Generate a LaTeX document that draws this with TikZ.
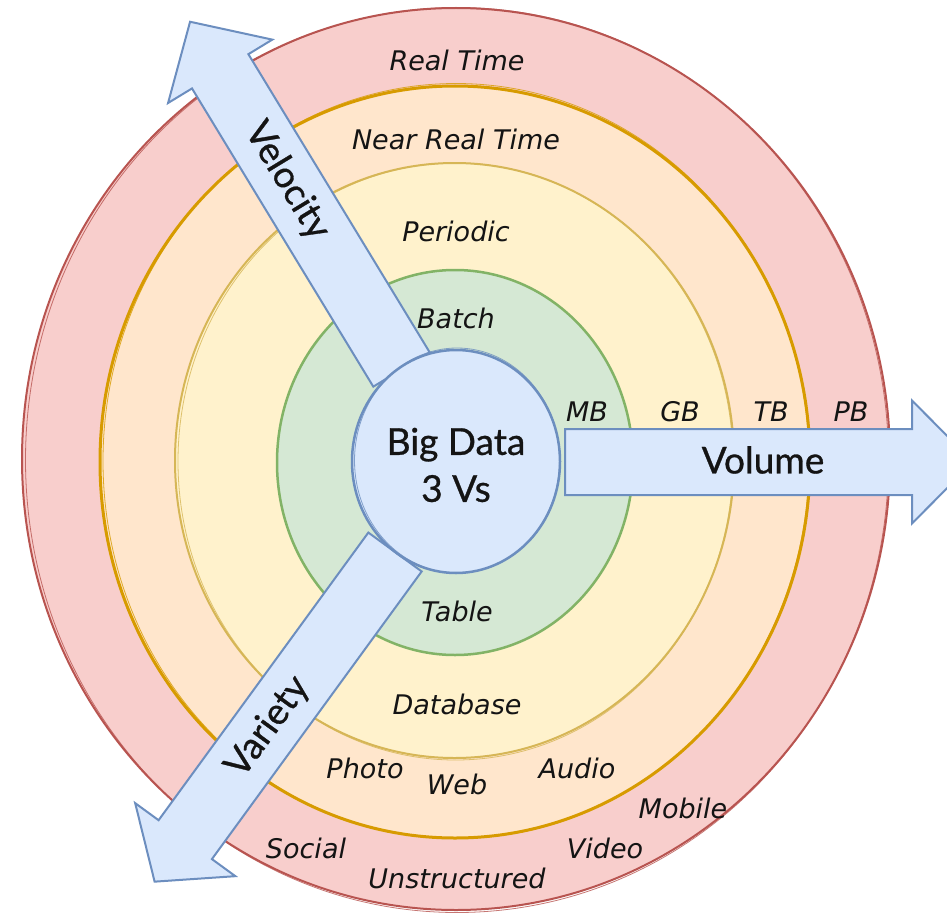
\documentclass[tikz,border=0pt]{standalone}
\usepackage{fontspec}
\setmainfont{Lato}
\newfontfamily\bigfont{Lato}[FakeBold=0.8]
\newfontfamily\handfont{DejaVu Sans}
\usetikzlibrary{shapes.geometric}

\definecolor{redfill}{HTML}{F8CECC}\definecolor{redline}{HTML}{B85450}
\definecolor{orfill}{HTML}{FFE6CC}\definecolor{orline}{HTML}{D79B00}
\definecolor{yefill}{HTML}{FFF2CC}\definecolor{yeline}{HTML}{D6B656}
\definecolor{grfill}{HTML}{D5E8D4}\definecolor{grline}{HTML}{82B366}
\definecolor{blfill}{HTML}{DAE8FC}\definecolor{blline}{HTML}{6C8EBF}
\definecolor{ink}{HTML}{141414}

\tikzset{
  ring/.style={line width=2pt},
  sketchline/.style={line width=0.8pt, opacity=0.8},
  handlabel/.style={font=\handfont\fontsize{27}{30}\selectfont\itshape, text=ink, inner sep=0pt},
  biglabel/.style={font=\bigfont\fontsize{37}{47}\selectfont, text=ink, inner sep=0pt, align=center},
  bigarrow/.style={fill=blfill, draw=blline, line width=2pt, line join=miter},
}

\begin{document}
\begin{tikzpicture}[x=1pt, y=-1pt]
\useasboundingbox (0,0) rectangle (947,915);
\clip (0,0) rectangle (947,915);

% concentric rings, outermost first
\draw[ring, fill=redfill, draw=redline] (456,459) ellipse [x radius=434pt, y radius=451pt];
\draw[sketchline, draw=redline] (457,460) ellipse [x radius=431.5pt, y radius=452.5pt];
\draw[ring, line width=3pt, fill=orfill, draw=orline] (455,462) ellipse [x radius=355pt, y radius=376pt];
\draw[sketchline, draw=orline] (456,461) ellipse [x radius=353pt, y radius=377.5pt];
\draw[ring, fill=yefill, draw=yeline] (454.5,460.5) ellipse [x radius=279.5pt, y radius=297.5pt];
\draw[sketchline, draw=yeline] (455.5,461.5) ellipse [x radius=277.5pt, y radius=298.5pt];
\draw[ring, line width=2.5pt, fill=grfill, draw=grline] (455,462.5) ellipse [x radius=178pt, y radius=192.5pt];

% velocity ring labels
\node[handlabel] (realtime) at (457,60) {Real Time};
\node[handlabel] (nearrealtime) at (456,139) {Near Real Time};
\node[handlabel] (periodic) at (456,231) {Periodic};
\node[handlabel] (batch) at (456,318) {Batch};

% volume ring labels
\node[handlabel] (mb) at (587,412) {MB};
\node[handlabel] (gb) at (680,412) {GB};
\node[handlabel] (tb) at (771,412) {TB};
\node[handlabel] (pb) at (851,412) {PB};

% variety ring labels
\node[handlabel] (table) at (457,611) {Table};
\node[handlabel] (database) at (457,704) {Database};
\node[handlabel] (photo) at (365,768) {Photo};
\node[handlabel] (web) at (457,784) {Web};
\node[handlabel] (audio) at (577,768) {Audio};
\node[handlabel] (social) at (306,848) {Social};
\node[handlabel] (unstructured) at (457,878) {Unstructured};
\node[handlabel] (video) at (605,848) {Video};
\node[handlabel] (mobile) at (683,808) {Mobile};

% the three axis arrows
\begin{scope}[shift={(565,462)}]
  \draw[bigarrow] (0,-33) -- (347,-33) -- (347,-61.5) -- (408,0) -- (347,61.5) -- (347,33) -- (0,33) -- cycle;
\end{scope}
\begin{scope}[shift={(401.5,369.5)}, rotate=121.3]
  \draw[bigarrow] (0,-33) -- (349,-33) -- (349,-61) -- (407,0) -- (349,61) -- (349,33) -- (0,33) -- cycle;
\end{scope}
\begin{scope}[shift={(395,552)}, rotate=-126.1]
  \draw[bigarrow] (0,-33) -- (356,-33) -- (356,-62) -- (408,0) -- (356,62) -- (356,33) -- (0,33) -- cycle;
\end{scope}

\node[biglabel] (volume) at (763,460) {Volume};
\node[biglabel, rotate=-58.7] (velocity) at (287,181) {Velocity};
\node[biglabel, rotate=53.9] (variety) at (268,727) {Variety};

% centre hub
\node[ellipse, fill=blfill, draw=blline, line width=2.5pt, minimum width=208pt, minimum height=223pt, inner sep=0pt] (hub) at (456,461.5) {};
\draw[sketchline, draw=blline] (457,460.5) ellipse [x radius=102.5pt, y radius=112.5pt];
\node[biglabel] (hubtext) at (456,465) {Big Data\\3 Vs};
\end{tikzpicture}
\end{document}
